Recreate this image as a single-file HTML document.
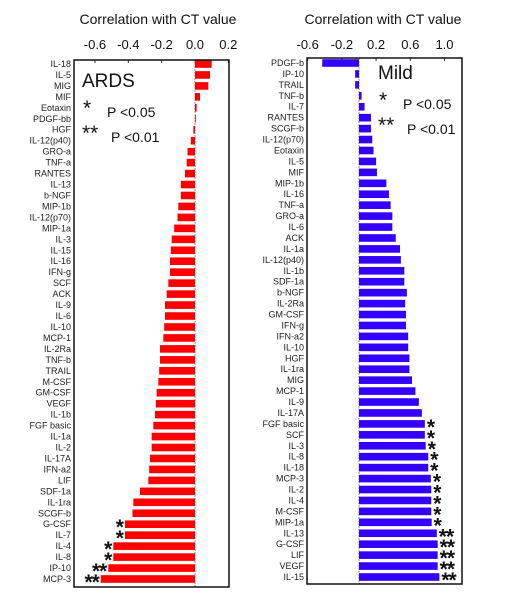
<!DOCTYPE html>
<html><head><meta charset="utf-8"><style>
html,body{margin:0;padding:0;background:#fff;width:510px;height:597px;overflow:hidden}
svg{display:block;font-family:"Liberation Sans",Arial,sans-serif}
</style></head><body>
<svg id="chart" width="510" height="597" viewBox="0 0 510 597"></svg>
<script>
const ardsCategories=["IL-18","IL-5","MIG","MIF","Eotaxin","PDGF-bb","HGF","IL-12(p40)","GRO-a","TNF-a","RANTES","IL-13","b-NGF","MIP-1b","IL-12(p70)","MIP-1a","IL-3","IL-15","IL-16","IFN-g","SCF","ACK","IL-9","IL-6","IL-10","MCP-1","IL-2Ra","TNF-b","TRAIL","M-CSF","GM-CSF","VEGF","IL-1b","FGF basic","IL-1a","IL-2","IL-17A","IFN-a2","LIF","SDF-1a","IL-1ra","SCGF-b","G-CSF","IL-7","IL-4","IL-8","IP-10","MCP-3"];
const ardsValues=[0.10,0.09,0.08,0.03,0.01,0.005,-0.01,-0.025,-0.045,-0.05,-0.06,-0.085,-0.085,-0.10,-0.105,-0.125,-0.14,-0.145,-0.15,-0.15,-0.16,-0.17,-0.18,-0.18,-0.185,-0.19,-0.21,-0.21,-0.215,-0.22,-0.23,-0.235,-0.24,-0.25,-0.26,-0.26,-0.27,-0.275,-0.28,-0.33,-0.37,-0.375,-0.42,-0.42,-0.49,-0.49,-0.52,-0.565];
const ardsStars=["","","","","","","","","","","","","","","","","","","","","","","","","","","","","","","","","","","","","","","","","","","*","*","*","*","**","**"];
const mildCategories=["PDGF-b","IP-10","TRAIL","TNF-b","IL-7","RANTES","SCGF-b","IL-12(p70)","Eotaxin","IL-5","MIF","MIP-1b","IL-16","TNF-a","GRO-a","IL-6","ACK","IL-1a","IL-12(p40)","IL-1b","SDF-1a","b-NGF","IL-2Ra","GM-CSF","IFN-g","IFN-a2","IL-10","HGF","IL-1ra","MIG","MCP-1","IL-9","IL-17A","FGF basic","SCF","IL-3","IL-8","IL-18","MCP-3","IL-2","IL-4","M-CSF","MIP-1a","IL-13","G-CSF","LIF","VEGF","IL-15"];
const mildValues=[-0.43,-0.045,-0.045,0.03,0.065,0.14,0.14,0.155,0.17,0.2,0.21,0.32,0.35,0.37,0.39,0.39,0.43,0.48,0.49,0.53,0.53,0.56,0.54,0.55,0.55,0.575,0.575,0.59,0.59,0.62,0.66,0.70,0.735,0.77,0.77,0.78,0.81,0.81,0.84,0.845,0.845,0.845,0.85,0.91,0.92,0.92,0.92,0.94];
const mildStars=["","","","","","","","","","","","","","","","","","","","","","","","","","","","","","","","","","*","*","*","*","*","*","*","*","*","*","**","**","**","**","**"];
const ardsTicks=[-0.6,-0.4,-0.2,0.0,0.2];
const mildTicks=[-0.6,-0.2,0.2,0.6,1.0];

const svg=document.getElementById('chart');
const NS='http://www.w3.org/2000/svg';
function mk(tag,attrs,parent){const e=document.createElementNS(NS,tag);for(const k in attrs)e.setAttribute(k,attrs[k]);(parent||svg).appendChild(e);return e;}
function txt(s,attrs,parent){const e=mk('text',attrs,parent);e.textContent=s;return e;}

function panel(cfg){
  const g=mk('g',{});
  
  
  const x=v=>cfg.zeroX+v*cfg.pxPerUnit;
  const rowY=i=>cfg.firstY+i*(cfg.lastY-cfg.firstY)/(cfg.cats.length-1);
  const t=txt('Correlation with CT value',{x:cfg.titleX,y:24,'font-size':14,'text-anchor':'middle',fill:'#111'},g);
  
  
  cfg.ticks.forEach(v=>{
    const l=txt(v.toFixed(1),{x:x(v),y:49,'font-size':13,'text-anchor':'middle',fill:'#111'},g);
    
    
    const tk=mk('line',{x1:x(v),x2:x(v),y1:cfg.top,y2:cfg.top+3,stroke:'#333','stroke-width':1},g);
    
    
  });
  const zl=mk('line',{x1:x(0),x2:x(0),y1:cfg.top,y2:cfg.bottom,stroke:'#999','stroke-width':1,'stroke-dasharray':'2,1'},g);
  
  
  cfg.cats.forEach((c,i)=>{
    const y=rowY(i);const v=cfg.vals[i];
    const lab=txt(c,{x:cfg.labelX,y:y+3,'font-size':9,'text-anchor':'end',fill:'#222'},g);
    
    
    const b=mk('rect',{x:Math.min(x(0),x(v)),y:y-3.8,width:Math.abs(x(v)-x(0)),height:7.6,fill:cfg.color},g);
    
    
    const s=cfg.stars[i];
    if(s){
      const sx=v<0?x(v)-2:x(v)+2;
      const st=txt(s,{x:sx,y:y+10,'font-size':21,'font-weight':'bold','text-anchor':v<0?'end':'start',fill:'#111','letter-spacing':'-1'},g);
      
      
    }
  });
  const box=mk('rect',{x:cfg.left,y:cfg.top,width:cfg.right-cfg.left,height:cfg.bottom-cfg.top,fill:'none',stroke:'#111','stroke-width':1.5},g);
  
  
  const lg=mk('g',{},g);
  
  
  const L=cfg.leg;
  txt(cfg.label,{x:L[0],y:L[1],'font-size':19,fill:'#111'},lg);
  txt('*',{x:L[0]+1,y:L[1]+28,'font-size':21,fill:'#111'},lg);
  txt('P <0.05',{x:L[0]+25,y:L[1]+30,'font-size':14,fill:'#111'},lg);
  txt('**',{x:L[0],y:L[1]+53,'font-size':21,fill:'#111'},lg);
  txt('P <0.01',{x:L[0]+29,y:L[1]+55,'font-size':14,fill:'#111'},lg);
}
panel({name:'ards-panel',cats:ardsCategories,vals:ardsValues,stars:ardsStars,ticks:ardsTicks,
  zeroX:195,pxPerUnit:166.7,left:74,right:229,top:60,bottom:587,firstY:64,lastY:579,
  labelX:71,titleX:158,color:'#ff0000',label:'ARDS',leg:[82,87]});
panel({name:'mild-panel',cats:mildCategories,vals:mildValues,stars:mildStars,ticks:mildTicks,
  zeroX:359,pxPerUnit:85.5,left:307,right:462,top:58,bottom:584,firstY:63,lastY:577,
  labelX:304,titleX:383,color:'#3300ff',label:'Mild',leg:[378,79]});
</script>
</body></html>
